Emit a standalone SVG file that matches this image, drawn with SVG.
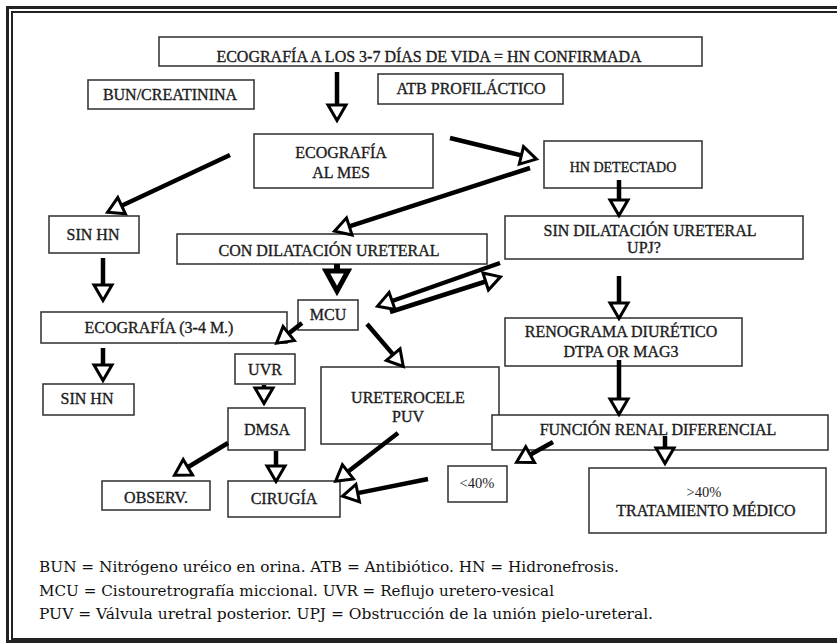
<svg xmlns="http://www.w3.org/2000/svg" width="837" height="643" viewBox="0 0 837 643">
<defs>
<marker id="ah" viewBox="-3 -12 24 24" refX="0" refY="0" markerWidth="24" markerHeight="24" markerUnits="userSpaceOnUse" orient="auto" overflow="visible">
<path d="M0,-9 L15.5,0 L0,9 Z" fill="#fff" stroke="#000" stroke-width="3" stroke-linejoin="miter"/>
</marker>
</defs>
<style>
.box{fill:#fff;stroke:#3a3a3a;stroke-width:1.6}
.t{font-family:"Liberation Serif","Times New Roman",serif;font-size:16px;fill:#1c1c1c;stroke:#1c1c1c;stroke-width:0.35;text-anchor:middle}
.fn{font-family:"DejaVu Serif","Liberation Serif",serif;font-size:15px;fill:#111}
.ar{stroke:#000;stroke-width:4.5;fill:none;marker-end:url(#ah)}
.frame{fill:none;stroke:#222}
</style>
<rect x="0" y="0" width="837" height="643" fill="#fff"/>
<g id="frame">
<rect class="frame" x="7.5" y="7.5" width="900" height="634" stroke-width="3"/>
<rect class="frame" x="12" y="12" width="900" height="627" stroke-width="2"/>
</g>
<g id="n-top"><rect class="box" x="159" y="37" width="543" height="29"/><text class="t" x="429" y="62">ECOGRAFÍA A LOS 3-7 DÍAS DE VIDA = HN CONFIRMADA</text></g>
<g id="n-bun"><rect class="box" x="88" y="80" width="166" height="29"/><text class="t" x="170" y="100">BUN/CREATININA</text></g>
<g id="n-atb"><rect class="box" x="378" y="74" width="185" height="30"/><text class="t" x="471" y="94">ATB PROFILÁCTICO</text></g>
<g id="n-ecomes"><rect class="box" x="254" y="134" width="179" height="54"/><text class="t" x="341" y="158">ECOGRAFÍA</text><text class="t" x="341" y="178">AL MES</text></g>
<g id="n-hndet"><rect class="box" x="544" y="141" width="158" height="47"/><text class="t" x="623" y="172" style="font-size:14px">HN DETECTADO</text></g>
<g id="n-sinhn1"><rect class="box" x="49" y="216" width="90" height="37"/><text class="t" x="93" y="240">SIN HN</text></g>
<g id="n-condil"><rect class="box" x="177" y="234" width="310" height="30"/><text class="t" x="329" y="256">CON DILATACIÓN URETERAL</text></g>
<g id="n-sindil"><rect class="box" x="505" y="216" width="298" height="43"/><text class="t" x="650" y="236">SIN DILATACIÓN URETERAL</text><text class="t" x="644" y="253">UPJ?</text></g>
<g id="n-mcu"><rect class="box" x="298" y="300" width="60" height="30"/><text class="t" x="328" y="320">MCU</text></g>
<g id="n-eco34"><rect class="box" x="41" y="312" width="246" height="31"/><text class="t" x="159" y="333">ECOGRAFÍA (3-4 M.)</text></g>
<g id="n-reno"><rect class="box" x="505" y="318" width="237" height="48"/><text class="t" x="621" y="337">RENOGRAMA DIURÉTICO</text><text class="t" x="621" y="357">DTPA OR MAG3</text></g>
<g id="n-uvr"><rect class="box" x="235" y="354" width="60" height="30"/><text class="t" x="265" y="375">UVR</text></g>
<g id="n-sinhn2"><rect class="box" x="43" y="384" width="91" height="31"/><text class="t" x="87" y="404">SIN HN</text></g>
<g id="n-uret"><rect class="box" x="321" y="367" width="178" height="77"/><text class="t" x="408" y="403">URETEROCELE</text><text class="t" x="408" y="422">PUV</text></g>
<g id="n-dmsa"><rect class="box" x="228" y="408" width="77" height="42"/><text class="t" x="267" y="435">DMSA</text></g>
<g id="n-func"><rect class="box" x="492" y="415" width="336" height="35"/><text class="t" x="658" y="435">FUNCIÓN RENAL DIFERENCIAL</text></g>
<g id="n-lt40"><rect class="box" x="448" y="466" width="59" height="36"/><text class="t" x="477" y="488" style="font-size:14.5px;stroke-width:0">&lt;40%</text></g>
<g id="n-gt40"><rect class="box" x="589" y="468" width="237" height="65"/><text class="t" x="704" y="497" style="font-size:14.5px;stroke-width:0">&gt;40%</text><text class="t" x="706" y="516">TRATAMIENTO MÉDICO</text></g>
<g id="n-obs"><rect class="box" x="102" y="481" width="108" height="29"/><text class="t" x="156" y="503">OBSERV.</text></g>
<g id="n-cir"><rect class="box" x="228" y="481" width="112" height="36"/><text class="t" x="284" y="504">CIRUGÍA</text></g>
<g id="connectors">
<line class="ar" x1="337" y1="72" x2="337" y2="105"/>
<line class="ar" x1="450" y1="138" x2="521.4" y2="155.4"/>
<line class="ar" x1="230" y1="155" x2="121.6" y2="205.7"/>
<line class="ar" x1="530" y1="168" x2="349.3" y2="226.4"/>
<line class="ar" x1="619" y1="180" x2="619" y2="200"/>
<line class="ar" x1="103" y1="258" x2="103" y2="285"/>
<line class="ar" x1="103" y1="348" x2="103" y2="365"/>
<line x1="337" y1="264" x2="337" y2="272" stroke="#000" stroke-width="6"/>
<polygon points="326,271 348,271 337,291" fill="#fff" stroke="#000" stroke-width="5" stroke-linejoin="miter"/>
<line class="ar" x1="500" y1="263" x2="392.1" y2="301"/>
<line class="ar" x1="390" y1="312" x2="485.7" y2="281.5"/>
<line class="ar" x1="302" y1="323" x2="288.7" y2="333.6"/>
<line class="ar" x1="367" y1="324" x2="393.2" y2="354.6"/>
<line class="ar" x1="264" y1="385" x2="264" y2="388"/>
<line class="ar" x1="228" y1="443" x2="187.8" y2="467.2"/>
<line class="ar" x1="276" y1="451" x2="276" y2="466"/>
<line class="ar" x1="398" y1="433" x2="347.9" y2="471.8"/>
<line class="ar" x1="428" y1="479" x2="357.7" y2="493.1"/>
<line class="ar" x1="619" y1="276" x2="619" y2="303"/>
<line class="ar" x1="619" y1="360" x2="619" y2="399"/>
<line class="ar" x1="553" y1="442" x2="530.1" y2="454.7"/>
<line class="ar" x1="665" y1="436" x2="665" y2="448"/>
</g>
<g id="notes">
<text class="fn" x="39" y="572" textLength="580" lengthAdjust="spacingAndGlyphs">BUN = Nitrógeno uréico en orina. ATB = Antibiótico. HN = Hidronefrosis.</text>
<text class="fn" x="39" y="596" textLength="515" lengthAdjust="spacingAndGlyphs">MCU = Cistouretrografía miccional. UVR = Reflujo uretero-vesical</text>
<text class="fn" x="39" y="619" textLength="614" lengthAdjust="spacingAndGlyphs">PUV = Válvula uretral posterior. UPJ = Obstrucción de la unión pielo-ureteral.</text>
</g>
</svg>
